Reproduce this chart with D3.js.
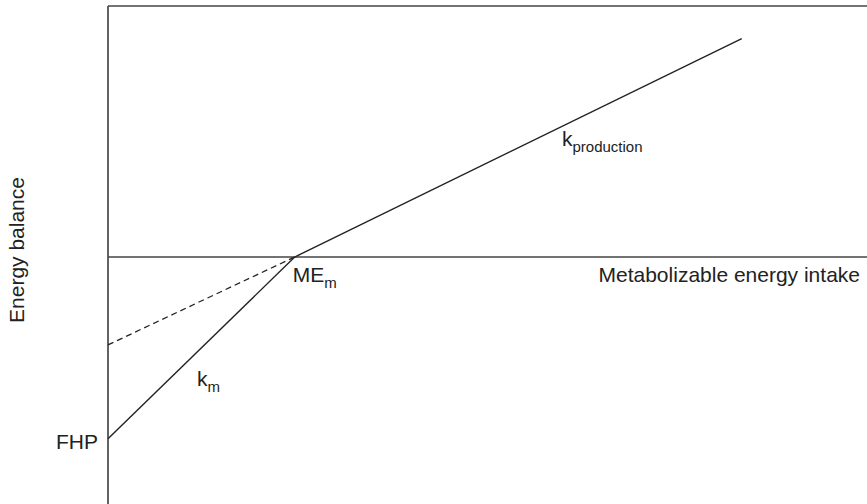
<!DOCTYPE html>
<html>
<head>
<meta charset="utf-8">
<script src="https://cdn.jsdelivr.net/npm/d3@7"></script>
<style>
  html, body { margin: 0; padding: 0; background: #fff; }
  svg { display: block; }
  text { font-family: "Liberation Sans", Arial, sans-serif; fill: #222; }
</style>
</head>
<body>
<svg id="chart" width="867" height="504"></svg>
<script>
// Data (in arbitrary energy units)
const xDomain = [0, 10];
const yDomain = [-4.92, 5.0];
const fhp = { x: 0, y: -3.62 };          // fasting heat production (intercept)
const mem = { x: 2.46, y: 0 };           // ME for maintenance
const prodEnd = { x: 8.35, y: 4.35 };    // end of production line
const dashStart = { x: 0, y: -1.75 };    // back-extrapolated production line
const maintenanceLine = [fhp, mem];
const productionLine = [mem, prodEnd];
const extrapolatedLine = [dashStart, mem];

const svg = d3.select("#chart");
const x = d3.scaleLinear().domain(xDomain).range([108, 867]);
const y = d3.scaleLinear().domain(yDomain).range([504, 6]);
const line = d3.line().x(d => x(d.x)).y(d => y(d.y));
const stroke = "#222";

// Frame: left axis and top border
svg.append("line").attr("x1", x(0)).attr("x2", x(0)).attr("y1", y(yDomain[1])).attr("y2", y(yDomain[0]))
  .attr("stroke", stroke).attr("stroke-width", 1.4);
svg.append("line").attr("x1", x(0)).attr("x2", x(xDomain[1])).attr("y1", y(yDomain[1])).attr("y2", y(yDomain[1]))
  .attr("stroke", "#444").attr("stroke-width", 1.6);
// Zero line (x-axis)
svg.append("line").attr("x1", x(0)).attr("x2", x(xDomain[1])).attr("y1", y(0)).attr("y2", y(0))
  .attr("stroke", "#444").attr("stroke-width", 1.4);

svg.append("path").attr("d", line(maintenanceLine)).attr("fill", "none").attr("stroke", stroke).attr("stroke-width", 1.4);
svg.append("path").attr("d", line(productionLine)).attr("fill", "none").attr("stroke", stroke).attr("stroke-width", 1.4);
svg.append("path").attr("d", line(extrapolatedLine)).attr("fill", "none").attr("stroke", stroke)
  .attr("stroke-width", 1.3).attr("stroke-dasharray", "6,4");

// Labels
svg.append("text").attr("transform", `translate(24,250) rotate(-90)`)
  .attr("text-anchor", "middle").attr("font-size", 21).text("Energy balance");

svg.append("text").attr("x", 860).attr("y", y(0) + 25).attr("text-anchor", "end")
  .attr("font-size", 21).text("Metabolizable energy intake");

svg.append("text").attr("x", x(0) - 10).attr("y", y(fhp.y) + 10).attr("text-anchor", "end")
  .attr("font-size", 21).text("FHP");

function subLabel(px, py, main, sub) {
  const t = svg.append("text").attr("x", px).attr("y", py).attr("font-size", 21);
  t.append("tspan").text(main);
  t.append("tspan").attr("font-size", 15).attr("dy", 6).text(sub);
}
subLabel(x(mem.x) - 2, y(0) + 25, "ME", "m");
subLabel(197, 386, "k", "m");
subLabel(562, 146, "k", "production");
</script>
</body>
</html>
